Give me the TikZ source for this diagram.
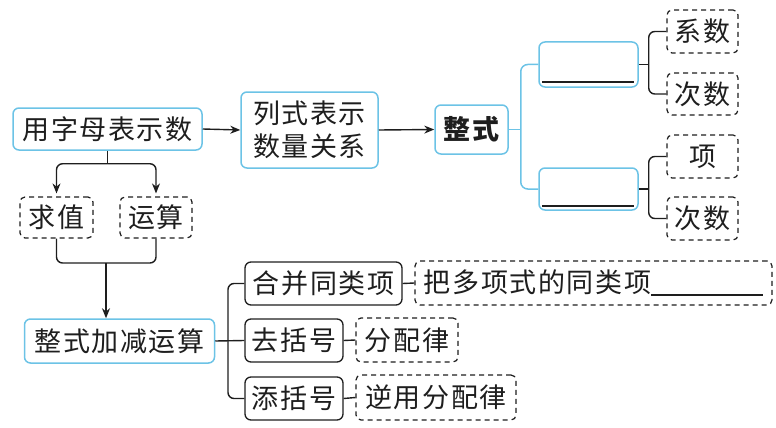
\documentclass[tikz,border=0pt]{standalone}
\usepackage{fontspec}
\setmainfont{Noto Sans CJK SC}[LetterSpace=6]
\usetikzlibrary{arrows.meta}
\definecolor{boxblue}{HTML}{6CC3E6}
\definecolor{ink}{HTML}{1E1E1E}
\begin{document}
\begin{tikzpicture}[x=1pt,y=-1pt,
  every node/.style={font=\fontsize{27}{33}\selectfont, text=ink, inner sep=0pt, align=center},
  bluebox/.style={draw=boxblue, line width=1.5pt, rounded corners=6pt, fill=white},
  blackbox/.style={draw=ink, line width=1.3pt, rounded corners=6pt, fill=white},
  dashbox/.style={draw=ink, line width=1.2pt, dash pattern=on 5pt off 4pt, rounded corners=5pt, fill=white},
  link/.style={draw=ink, line width=1.4pt},
  bluelink/.style={draw=boxblue, line width=1.5pt},
  arr/.style={link, -{Stealth[length=10pt,width=8pt]}}]
\useasboundingbox (0,0) rectangle (776,428);
% nodes
\node[bluebox, minimum width=189, minimum height=42] (A) at (107.5,129) {用字母表示数};
\node[bluebox, minimum width=137, minimum height=76] (B) at (309.5,130) {列式表示\\数量关系};
\node[bluebox, minimum width=73, minimum height=49] (C) at (471.5,129.5) {\bfseries 整式};
\node[bluebox, minimum width=99, minimum height=45] (D) at (588.5,64.5) {};
\node[bluebox, minimum width=99, minimum height=42] (E) at (588.5,189) {};
\node[dashbox, minimum width=71, minimum height=43] (F) at (702.5,31.5) {系数};
\node[dashbox, minimum width=71, minimum height=42] (G) at (702.5,94) {次数};
\node[dashbox, minimum width=71, minimum height=43] (H) at (702.5,156.5) {项};
\node[dashbox, minimum width=71, minimum height=43] (I) at (702.5,218.5) {次数};
\node[dashbox, minimum width=73, minimum height=41] (J) at (56.5,217.5) {求值};
\node[dashbox, minimum width=72, minimum height=41] (K) at (156,217.5) {运算};
\node[bluebox, minimum width=190, minimum height=44] (L) at (119.5,341) {整式加减运算};
\node[blackbox, minimum width=157, minimum height=43] (M) at (323.5,283.5) {合并同类项};
\node[blackbox, minimum width=98, minimum height=43] (N) at (294,340.5) {去括号};
\node[blackbox, minimum width=98, minimum height=43] (O) at (294,398.5) {添括号};
\node[dashbox, minimum width=357, minimum height=44] (P) at (593.5,283) {把多项式的同类项\rule[-3pt]{112pt}{1.4pt}};
\node[dashbox, minimum width=102, minimum height=44] (Q) at (407,340) {分配律};
\node[dashbox, minimum width=160, minimum height=45] (R) at (436,397.5) {逆用分配律};
% blanks inside D and E
\draw[ink, line width=1.6pt] ([shift={(4,-6)}]D.south west) -- ([shift={(-5,-6)}]D.south east);
\draw[ink, line width=1.6pt] ([shift={(4,-5)}]E.south west) -- ([shift={(-5,-5)}]E.south east);
% top row arrows
\draw[arr] (A.east) -- (B.west);
\draw[arr] (B.east) -- (C.west);
% bracket from C
\draw[bluelink] (C.east) -- ++(12,0) coordinate (c1);
\draw[bluelink, rounded corners=7pt] (D.west) -| (c1) |- (E.west);
% brackets from D and E
\draw[link] (D.east) -- ++(10,0) coordinate (d1);
\draw[link, rounded corners=6pt] (F.west) -| (d1) |- (G.west);
\draw[link] (E.east) -- ++(10,0) coordinate (e1);
\draw[link, rounded corners=6pt] (H.west) -| (e1) |- (I.west);
% left branch
\draw[link] (A.south) -- ++(0,13) coordinate (a1);
\draw[arr, rounded corners=6pt, shorten >=3pt] (a1) -| (J.north);
\draw[arr, rounded corners=6pt, shorten >=3pt] (a1) -| (K.north);
\coordinate (jk) at (106,263);
\draw[link, rounded corners=6pt] (J.south) |- (jk) -| (K.south);
\draw[arr] (jk) -- (jk |- L.north);
% bottom bracket
\draw[link] (L.east) -- (N.west);
\coordinate (l1) at (228,340.5);
\draw[link, rounded corners=6pt] (M.west) -| (l1) |- (O.west);
\draw[link] (M.east) -- (P.west);
\draw[link] (N.east) -- (Q.west);
\draw[link] (O.east) -- (R.west);
\end{tikzpicture}
\end{document}
